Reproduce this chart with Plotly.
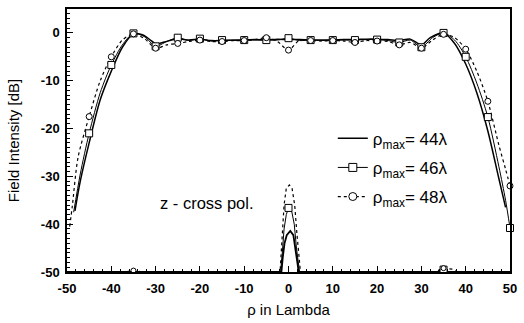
import plotly.graph_objects as go

# ---- co-polar curves ----
x44 = [-48.2, -47, -45, -42.5, -40, -37.5, -35, -33, -31, -30, -28, -25, -22.5, -20, -17.5, -15,
       -12.5, -10, -7.5, -5, -2.5, 0, 2.5, 5, 7.5, 10, 12.5, 15, 17.5, 20, 22.5, 25, 27.5, 30,
       32, 35, 37.5, 40, 42.5, 45, 47.5, 49]
y44 = [-37.2, -31, -23, -14, -8, -3, -0.2, -0.4, -1.6, -2.3, -1.9, -1.2, -1.5, -1.3, -1.6, -1.6,
       -1.5, -1.5, -1.4, -1.5, -1.3, -1.4, -1.4, -1.5, -1.5, -1.5, -1.4, -1.4, -1.3, -1.3, -1.4,
       -1.6, -1.3, -2.5, -1.0, 0.0, -2.2, -6.5, -12.5, -20.5, -30.5, -36.5]

x46 = [-48.5, -47, -45, -42.5, -40, -37.5, -35, -32.5, -30, -27.5, -25, -22.5, -20, -17.5, -15,
       -12.5, -10, -7.5, -5, -2.5, 0, 2.5, 5, 7.5, 10, 12.5, 15, 17.5, 20, 22.5, 25, 27.5, 30,
       32.5, 35, 37.5, 40, 42.5, 45, 47.5, 49, 50]
y46 = [-37.5, -29.5, -21, -12.5, -6.7, -2.5, -0.1, -0.8, -2.8, -1.8, -1.0, -1.6, -1.2, -1.7, -1.5,
       -1.6, -1.5, -1.5, -1.5, -1.5, -1.1, -1.6, -1.5, -1.6, -1.5, -1.5, -1.5, -1.4, -1.4, -1.6,
       -2.0, -1.5, -3.0, -1.0, 0.0, -1.5, -5.0, -10.5, -17.6, -28, -35, -40.8]

x48 = [-49.4, -48.8, -47.5, -45, -42.5, -40, -37.5, -35, -32.5, -30, -27.5, -25, -22.5, -20, -17.5,
       -15, -12.5, -10, -7.5, -5, -2.5, 0, 2.5, 5, 7.5, 10, 12.5, 15, 17.5, 20, 22.5, 25, 27.5, 30,
       32.5, 35, 37.5, 40, 42.5, 45, 47.5, 49, 50]
y48 = [-40.5, -36.2, -26, -17.5, -10, -5, -1.5, -0.2, -1.2, -3.2, -2.5, -2.2, -1.8, -1.5, -1.8,
       -1.8, -1.6, -1.6, -1.4, -1.0, -1.8, -3.6, -1.5, -1.6, -1.7, -1.6, -1.7, -2.0, -1.6, -1.7,
       -1.8, -2.5, -2.0, -3.2, -1.5, -0.3, -1.0, -3.4, -8.0, -14.3, -23.5, -28.5, -32]

# ---- cross-polar curves ----
cx44 = [-50, -1.6, -1.3, -0.9, -0.4, 0.4, 1.1, 1.6, 2.0, 2.3, 50]
cy44 = [-50, -50, -47, -44, -42.3, -41.4, -42.3, -45, -48, -50, -50]

cx46 = [-50, -1.8, -1.4, -1.0, -0.5, 0.0, 0.7, 1.3, 1.8, 2.2, 2.5, 34, 35, 36, 50]
cy46 = [-50, -50, -46, -41, -38, -36.6, -37.2, -40, -45, -48.5, -50, -50, -49.5, -50, -50]

cx48 = [-50, -37, -35, -33, -1.9, -1.5, -1.0, -0.5, 0.2, 0.8, 1.4, 1.9, 2.4, 2.7, 33, 35, 37, 38, 50]
cy48 = [-50, -50, -49.7, -50, -50, -43, -36, -32.5, -31.8, -32.5, -36, -42, -48, -50, -50, -49.2, -49.4, -50, -50]

labels = ["ρ<sub>max</sub>= 44λ", "ρ<sub>max</sub>= 46λ", "ρ<sub>max</sub>= 48λ"]
xticks = [-50, -40, -30, -20, -10, 0, 10, 20, 30, 40, 50]
yticks = [0, -10, -20, -30, -40, -50]

fig = go.Figure()

def curve(x, y, dash, width, shape="spline"):
    fig.add_trace(go.Scatter(x=x, y=y, mode="lines", showlegend=False,
                             line=dict(color="black", width=width, dash=dash, shape=shape,
                                       smoothing=0.8)))

def marks(x, y, symbol, size, cross=False):
    keep = [(a, b) for a, b in zip(x, y) if a % 5 == 0 and (not cross or b > -50)]
    fig.add_trace(go.Scatter(x=[k[0] for k in keep], y=[k[1] for k in keep], mode="markers",
                             showlegend=False, cliponaxis=False,
                             marker=dict(symbol=symbol, size=size, color="white",
                                         line=dict(color="black", width=1))))

curve(x44, y44, "solid", 1.5)
curve(x46, y46, "solid", 1.0)
curve(x48, y48, "dot", 1.2)
curve(cx44, cy44, "solid", 1.8, "linear")
curve(cx46, cy46, "solid", 1.0, "linear")
curve(cx48, cy48, "dot", 1.2, "linear")
marks(x46, y46, "square", 7)
marks(x48, y48, "circle", 6)
marks(cx46, cy46, "square", 7, cross=True)
marks(cx48, cy48, "circle", 5, cross=True)

# legend entries
styles = [("solid", 1.5, None), ("solid", 1.0, "square"), ("dot", 1.2, "circle")]
for i, (lab, (dash, w, sym)) in enumerate(zip(labels, styles)):
    fig.add_trace(go.Scatter(x=[None], y=[None], name=lab, legendgroup=str(i),
                             mode="lines+markers" if sym else "lines",
                             line=dict(color="black", width=w, dash=dash),
                             marker=dict(symbol=sym or "circle", size=8, color="white",
                                         line=dict(color="black", width=1))))

fig.add_annotation(x=-18.5, y=-35.5, text="z - cross pol.", showarrow=False,
                   font=dict(size=16.5, color="black", family="Liberation Sans"))

fig.update_layout(
    width=524, height=323,
    margin=dict(l=67, r=8, t=7, b=49),
    paper_bgcolor="white", plot_bgcolor="white",
    font=dict(family="Liberation Sans", color="black"),
    legend=dict(x=0.6, y=0.575, xanchor="left", yanchor="top", bgcolor="rgba(0,0,0,0)",
                font=dict(size=17), traceorder="grouped", tracegroupgap=4, itemwidth=30),
    xaxis=dict(range=[-50, 50], tickvals=xticks, ticktext=[str(v) for v in xticks],
               ticks="inside", ticklen=6, tickcolor="black", showline=True, linecolor="black",
               linewidth=1.5, mirror=True, showgrid=False, zeroline=False, ticklabelstandoff=4,
               tickfont=dict(size=13, family="Liberation Sans", weight="bold"),
               minor=dict(ticks="inside", ticklen=3, dtick=2, tickcolor="black", showgrid=False),
               title=dict(text="ρ in Lambda", font=dict(size=15), standoff=9)),
    yaxis=dict(range=[-50, 5], tickvals=yticks, ticktext=[str(v) for v in yticks],
               ticks="inside", ticklen=6, tickcolor="black", showline=True, linecolor="black",
               linewidth=1.5, mirror=True, showgrid=False, zeroline=False, ticklabelstandoff=3,
               tickfont=dict(size=13, family="Liberation Sans", weight="bold"),
               minor=dict(ticks="inside", ticklen=3, dtick=1, tickcolor="black", showgrid=False),
               title=dict(text="Field Intensity [dB]", font=dict(size=15), standoff=18)),
)

fig.write_html("out.html")
